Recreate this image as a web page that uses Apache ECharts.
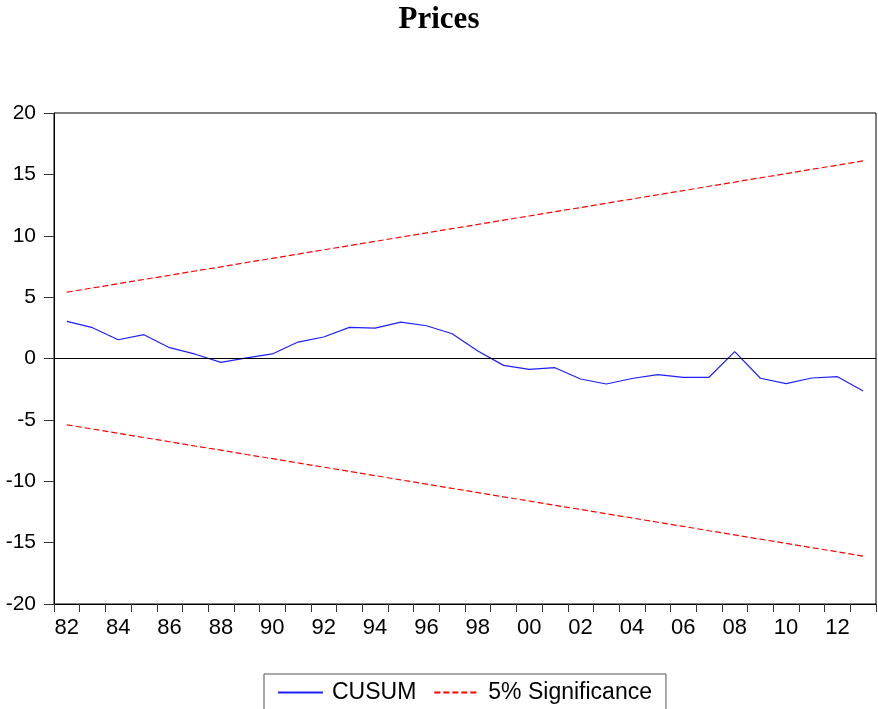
<!DOCTYPE html>
<html>
<head>
<meta charset="utf-8">
<script src="https://cdn.jsdelivr.net/npm/echarts@6/dist/echarts.min.js"></script>
<style>
html,body{margin:0;padding:0;background:#fff;}
#chart{width:878px;height:709px;}
</style>
</head>
<body>
<div id="chart"></div>
<script>
var years = ['82','83','84','85','86','87','88','89','90','91','92','93','94','95','96','97',
             '98','99','00','01','02','03','04','05','06','07','08','09','10','11','12','13'];
var cusum = [3.03, 2.51, 1.53, 1.94, 0.88, 0.35, -0.31, 0.05, 0.37, 1.34, 1.75, 2.54, 2.48, 2.97, 2.67, 2.02,
             0.61, -0.56, -0.88, -0.75, -1.67, -2.08, -1.63, -1.32, -1.53, -1.53, 0.56, -1.61, -2.05, -1.59, -1.48, -2.65];
var upper = [5.40, 5.75, 6.09, 6.44, 6.78, 7.13, 7.47, 7.82, 8.16, 8.51, 8.85, 9.20, 9.54, 9.89, 10.23, 10.58,
             10.92, 11.27, 11.61, 11.96, 12.30, 12.65, 12.99, 13.34, 13.68, 14.03, 14.37, 14.72, 15.06, 15.41, 15.75, 16.10];
var lower = [-5.40, -5.75, -6.09, -6.44, -6.78, -7.13, -7.47, -7.82, -8.16, -8.51, -8.85, -9.20, -9.54, -9.89, -10.23, -10.58,
             -10.92, -11.27, -11.61, -11.96, -12.30, -12.65, -12.99, -13.34, -13.68, -14.03, -14.37, -14.72, -15.06, -15.41, -15.75, -16.10];
var yTicks = {min: -20, max: 20, interval: 5};

var chart = echarts.init(document.getElementById('chart'), null, {renderer: 'canvas'});
var font = 'Liberation Sans, Arial, sans-serif';
chart.setOption({
  animation: false,
  backgroundColor: '#ffffff',
  title: {
    text: 'Prices',
    left: 'center',
    top: -1,
    textStyle: {fontFamily: 'Liberation Serif, Times New Roman, serif', fontWeight: 'bold', fontSize: 31, color: '#000'}
  },
  grid: {left: 54, top: 113, right: 2, bottom: 105, show: true, borderColor: '#000', borderWidth: 1, backgroundColor: 'transparent'},
  legend: {
    left: 264,
    top: 674,
    orient: 'horizontal',
    borderColor: '#555',
    borderWidth: 1,
    padding: [7, 14, 20, 13],
    itemGap: 17,
    itemWidth: 45,
    itemHeight: 20,
    itemStyle: {opacity: 0},
    textStyle: {fontFamily: font, fontSize: 23, color: '#000', padding: [0, 0, 0, 4]},
    data: [{name: 'CUSUM'}, {name: '5% Significance'}]
  },
  xAxis: {
    type: 'category',
    data: years,
    boundaryGap: true,
    axisLine: {show: true, onZero: false, lineStyle: {color: '#000', width: 1}},
    axisTick: {show: true, interval: 0, alignWithLabel: false, length: 8, lineStyle: {color: '#333'}},
    axisLabel: {interval: 1, fontFamily: font, fontSize: 22, color: '#000', margin: 13},
    splitLine: {show: false}
  },
  yAxis: {
    type: 'value',
    min: yTicks.min, max: yTicks.max, interval: yTicks.interval,
    axisLine: {show: true, lineStyle: {color: '#000', width: 1}},
    axisTick: {show: true, length: 10, lineStyle: {color: '#333'}},
    axisLabel: {fontFamily: font, fontSize: 21, color: '#000', margin: 18},
    splitLine: {show: false}
  },
  series: [
    {
      name: 'CUSUM', type: 'line', data: cusum, symbol: 'none',
      lineStyle: {color: '#1f1fff', width: 1.2}, itemStyle: {color: '#1f1fff', opacity: 0},
      markLine: {
        silent: true, symbol: 'none', label: {show: false},
        lineStyle: {color: '#000', type: 'solid', width: 1, opacity: 1},
        data: [{yAxis: 0}]
      }
    },
    {
      name: '5% Significance', type: 'line', data: upper, symbol: 'none',
      lineStyle: {color: '#ff0000', width: 1.2, type: [6, 3]}, itemStyle: {color: '#ff0000', opacity: 0}
    },
    {
      name: '5% Significance', type: 'line', data: lower, symbol: 'none',
      lineStyle: {color: '#ff0000', width: 1.2, type: [6, 3]}, itemStyle: {color: '#ff0000', opacity: 0}
    }
  ]
});
</script>
</body>
</html>
